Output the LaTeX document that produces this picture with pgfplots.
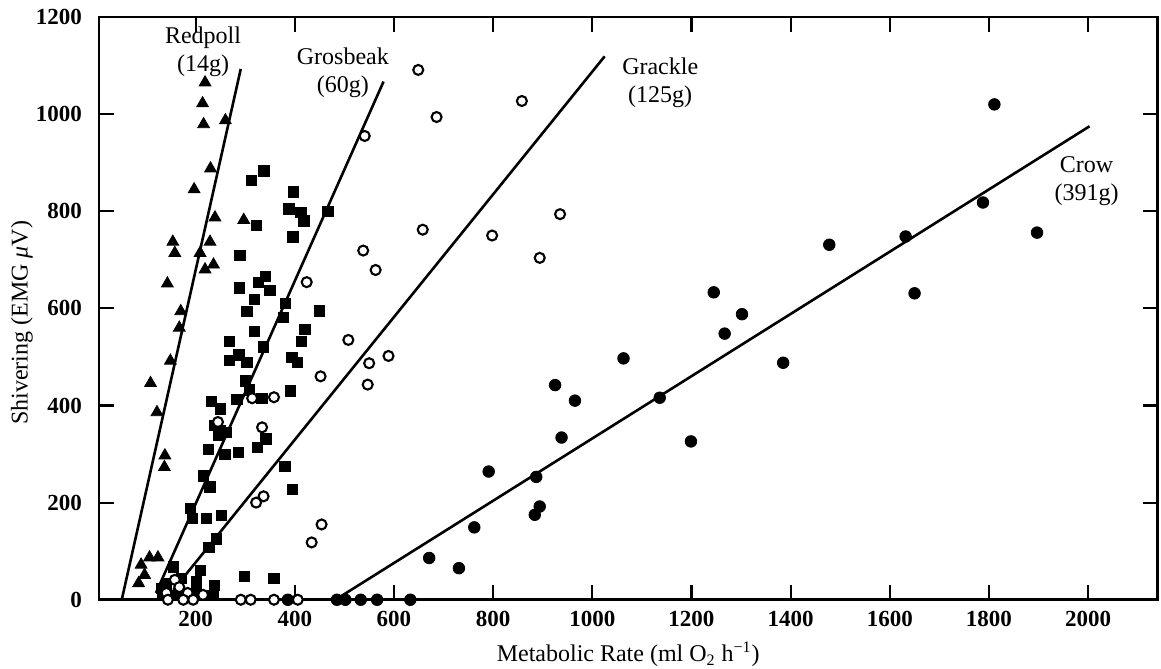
\documentclass[border=0pt]{standalone}
\usepackage{fontspec}
\setmainfont{Liberation Serif}
\usepackage{pgfplots}
\pgfplotsset{compat=1.18}

% Shivering (EMG) against metabolic rate for four bird species
\pgfplotstableread{
x y
219 1065
214 1022
216 979
260 987
230 888
197 845
239 787
297 782
154 737
158 714
229 737
209 714
236 690
219 680
143 651
170 594
167 560
149 492
109 446
122 386
138 297
137 273
107 87
124 87
90 72
97 51
85 34
}\redpoll

\pgfplotstableread{
x y
338 883
313 864
397 840
388 805
412 798
418 780
467 800
323 771
396 747
289 709
341 666
327 653
350 637
288 642
318 618
303 594
450 595
381 610
377 581
318 552
420 557
268 532
337 521
413 532
268 493
287 504
303 489
394 499
405 489
300 451
308 432
283 413
391 430
232 408
250 393
239 359
250 348
246 338
262 345
334 415
342 331
325 314
226 310
259 299
286 304
380 275
395 227
216 255
229 232
189 188
194 167
222 168
252 174
227 108
242 125
209 60
298 48
358 44
155 68
141 33
171 44
201 37
238 30
134 9
161 9
235 9
201 20
131 23
}\grosbeak

\pgfplotstableread{
x y
649 1091
858 1027
686 994
541 955
935 794
658 762
798 750
894 704
538 719
563 679
424 654
508 535
589 502
550 487
547 443
452 460
358 417
314 415
245 366
334 355
337 213
322 200
454 155
434 118
158 41
167 26
184 14
141 14
215 10
144 0
175 0
195 0
291 0
311 0
358 0
406 0
}\grackle

\pgfplotstableread{
x y
1811 1020
1788 818
1897 756
1632 748
1478 731
1650 631
1245 633
1302 588
1267 548
1385 488
1063 497
925 442
965 410
938 334
1136 416
1199 326
791 264
887 253
894 192
884 175
762 149
671 86
731 65
633 0
386 0
485 0
502 0
533 0
566 0
}\crow

\begin{document}
\fontsize{11.5}{13.8}\selectfont
\begin{tikzpicture}
\begin{axis}[
  name=ax,
  scale only axis,
  width=529.5pt, height=291.5pt,
  xmin=5, xmax=2140, ymin=0, ymax=1200,
  xtick={200,400,...,2000},
  ytick={0,200,...,1200},
  tick align=inside,
  major tick length=7.5pt,
  axis line style={line width=1.3pt},
  every tick/.style={black, line width=1.1pt},
  /pgf/number format/assume math mode=true,
  /pgf/number format/set thousands separator={},
  ticklabel style={font=\fontsize{11.5}{13.8}\selectfont\bfseries},
  xticklabel style={yshift=-1.5pt},
  yticklabel style={xshift=-4.5pt},
  clip=false,
  every axis x label/.style={at={(rel axis cs:0.5,-0.094)}, anchor=center},
  every axis y label/.style={at={(rel axis cs:-0.0727,0.475)}, rotate=90, anchor=center},
  xlabel={Metabolic Rate (ml O\textsubscript{2} h\textsuperscript{−1})},
  ylabel={Shivering (EMG \textit{μ}V)},
  label style={font=\fontsize{12}{14}\selectfont},
]
% regression lines
\addplot[black, line width=1.3pt] coordinates {(51,0) (291,1093)};
\addplot[black, line width=1.3pt] coordinates {(120,14) (579,1067)};
\addplot[black, line width=1.3pt] coordinates {(155,20) (1025,1119)};
\addplot[black, line width=1.3pt] coordinates {(482,0) (2003,975)};
% measurements
\addplot[only marks, mark=triangle*, mark size=3.4pt, black] table {\redpoll};
\addplot[only marks, mark=square*, mark size=2.6pt, black] table {\grosbeak};
\addplot[only marks, mark=*, mark size=2.5pt, mark options={fill=white, draw=black, line width=1.05pt}] table {\grackle};
\addplot[only marks, mark=*, mark size=2.9pt, black] table {\crow};
% species labels
\node[align=center, inner sep=0pt, font=\fontsize{12}{14}\selectfont] at (axis cs:215,1128) {Redpoll\\(14g)};
\node[align=center, inner sep=0pt, font=\fontsize{12}{14}\selectfont] at (axis cs:497,1086) {Grosbeak\\(60g)};
\node[align=center, inner sep=0pt, font=\fontsize{12}{14}\selectfont] at (axis cs:1137,1065) {Grackle\\(125g)};
\node[align=center, inner sep=0pt, font=\fontsize{12}{14}\selectfont] at (axis cs:1997,862) {Crow\\(391g)};
\end{axis}
\pgfresetboundingbox
\path ([shift={(-49.5pt,-34.5pt)}]ax.south west) rectangle ([shift={(1.75pt,8.5pt)}]ax.north east);
\end{tikzpicture}
\end{document}
